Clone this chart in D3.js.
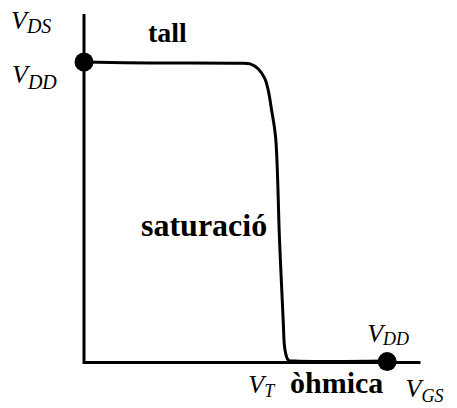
<!DOCTYPE html>
<html>
<head>
<meta charset="utf-8">
<script src="https://cdn.jsdelivr.net/npm/d3@7"></script>
</head>
<body style="margin:0">
<svg id="chart" width="457" height="408"></svg>
<script>
// Transfer characteristic V_DS vs V_GS (arbitrary units, VDD = 10)
const vgs = [0, 2.18, 4.98, 5.48, 5.75, 5.97, 6.08, 6.19, 6.32, 6.45, 6.57, 6.63, 6.74, 6.96, 10];
const vds = [10.0, 9.97, 9.96, 9.94, 9.77, 9.44, 9.05, 8.39, 7.50, 4.07, 1.41, 0.42, 0.08, 0.05, 0.05];
const VDD = 10;
const VT = 6.74;
const axisMax = { x: 11.1, y: 11.6 };
const regionLabels = ["tall", "saturació", "òhmica"];

const svg = d3.select("#chart");
const x = d3.scaleLinear().domain([0, axisMax.x]).range([84, 420.5]);
const y = d3.scaleLinear().domain([0, axisMax.y]).range([362.5, 14]);

// axes
svg.append("path")
  .attr("d", d3.line()([[x(0), y(axisMax.y)], [x(0), y(0)], [x(axisMax.x), y(0)]]))
  .attr("fill", "none").attr("stroke", "#000").attr("stroke-width", 3);

// curve
const pts = vgs.map((v, i) => [v, vds[i]]);
svg.append("path")
  .datum(pts)
  .attr("d", d3.line().x(d => x(d[0])).y(d => y(d[1])).curve(d3.curveCatmullRom.alpha(0.5)))
  .attr("fill", "none").attr("stroke", "#000").attr("stroke-width", 3)
  .attr("stroke-linejoin", "round");

// dots
svg.selectAll("circle.dot")
  .data([[0, VDD], [VDD, 0.03]])
  .join("circle")
  .attr("class", "dot")
  .attr("cx", d => x(d[0])).attr("cy", d => y(d[1]))
  .attr("r", 9.5).attr("fill", "#000");

// italic variable labels with subscripts
const varLabels = [
  { px: x(0) - 73, py: 29, main: "V", sub: "DS", dy: 4, ss: 20 },
  { px: x(0) - 72, py: 83, main: "V", sub: "DD", dy: 6, ss: 20 },
  { px: x(VDD) - 20, py: 342, main: "V", sub: "DD", dy: 3, ss: 18 },
  { px: x(VT) - 40, py: 393, main: "V", sub: "T", dy: 4, ss: 18 },
  { px: x(axisMax.x) - 15, py: 397, main: "V", sub: "GS", dy: 5, ss: 18 }
];
const vt = svg.selectAll("text.var").data(varLabels).join("text")
  .attr("class", "var")
  .attr("x", d => d.px).attr("y", d => d.py)
  .style("font-family", '"Liberation Serif"')
  .style("font-style", "italic")
  .style("font-size", "26px");
vt.append("tspan").text(d => d.main);
vt.append("tspan").attr("dy", d => d.dy).style("font-size", d => d.ss + "px").text(d => d.sub);

// bold region labels
const boldLabels = [
  { px: 148, py: 42, size: 28, t: regionLabels[0] },
  { px: 141, py: 236, size: 32, t: regionLabels[1] },
  { px: 290, py: 393, size: 30, t: regionLabels[2] }
];
svg.selectAll("text.reg").data(boldLabels).join("text")
  .attr("class", "reg")
  .attr("x", d => d.px).attr("y", d => d.py)
  .style("font-family", '"Liberation Serif"')
  .style("font-weight", "bold")
  .style("font-size", d => d.size + "px")
  .text(d => d.t);
</script>
</body>
</html>
